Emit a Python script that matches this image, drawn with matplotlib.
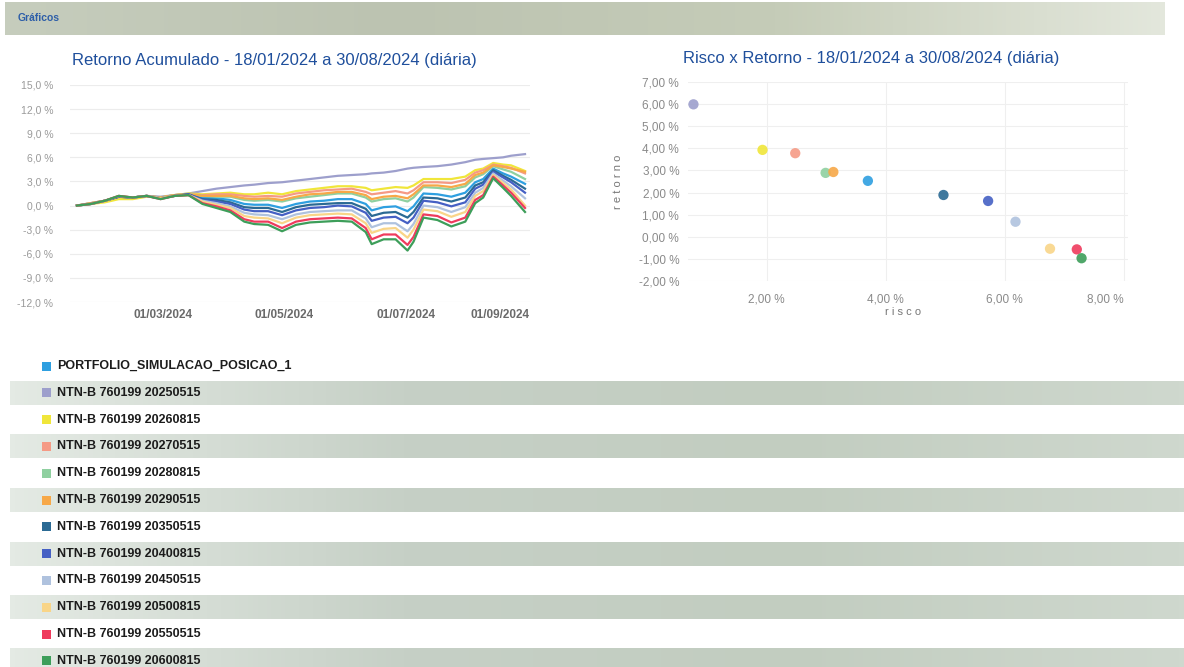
import matplotlib.pyplot as plt
import numpy as np
from datetime import datetime
from matplotlib.patches import Rectangle
from matplotlib.colors import LinearSegmentedColormap

plt.rcParams['font.family'] = ['Liberation Sans', 'DejaVu Sans']

# datas (aprox. semanais)
datas = ['2024-01-18', '2024-01-25', '2024-02-01', '2024-02-08', '2024-02-15', '2024-02-22',
         '2024-02-29', '2024-03-07', '2024-03-14', '2024-03-21', '2024-03-28', '2024-04-04',
         '2024-04-11', '2024-04-16', '2024-04-23', '2024-04-30', '2024-05-07', '2024-05-14',
         '2024-05-21', '2024-05-28', '2024-06-04', '2024-06-11', '2024-06-14', '2024-06-20',
         '2024-06-26', '2024-07-02', '2024-07-05', '2024-07-10', '2024-07-17', '2024-07-24',
         '2024-07-31', '2024-08-05', '2024-08-09', '2024-08-14', '2024-08-19', '2024-08-23',
         '2024-08-30']

ret_portfolio = [0.0, 0.2, 0.6, 1.1, 1.0, 1.2, 0.9, 1.2, 1.4, 1.0, 0.9, 0.7, 0.2, 0.1, 0.1, -0.3, 0.2, 0.5, 0.6,
                 0.8, 0.8, 0.2, -0.6, -0.2, -0.1, -0.7, -0.1, 1.5, 1.4, 1.1, 1.6, 2.9, 3.3, 4.6, 4.0, 3.6, 2.7]
ret_20250515 = [0.0, 0.3, 0.6, 1.0, 1.0, 1.2, 1.1, 1.3, 1.5, 1.8, 2.1, 2.3, 2.5, 2.6, 2.8, 2.9, 3.1, 3.3, 3.5,
                3.7, 3.8, 3.9, 4.0, 4.1, 4.3, 4.6, 4.7, 4.8, 4.9, 5.1, 5.4, 5.7, 5.8, 5.9, 6.0, 6.2, 6.4]
ret_20260815 = [0.0, 0.2, 0.4, 0.8, 0.8, 1.1, 1.0, 1.3, 1.5, 1.4, 1.5, 1.6, 1.4, 1.4, 1.6, 1.4, 1.8, 2.0, 2.2,
                2.4, 2.4, 2.2, 1.9, 2.1, 2.3, 2.2, 2.5, 3.3, 3.3, 3.3, 3.6, 4.4, 4.6, 5.3, 5.1, 5.0, 4.3]
ret_20270515 = [0.0, 0.3, 0.6, 1.1, 1.0, 1.2, 1.0, 1.3, 1.4, 1.3, 1.4, 1.4, 1.2, 1.1, 1.2, 1.1, 1.5, 1.7, 1.9,
                2.0, 2.1, 1.7, 1.4, 1.6, 1.8, 1.5, 1.9, 2.9, 2.9, 2.8, 3.2, 4.1, 4.4, 5.1, 4.9, 4.7, 4.0]
ret_20280815 = [0.0, 0.3, 0.6, 1.1, 1.0, 1.2, 1.0, 1.3, 1.4, 1.2, 1.1, 1.1, 0.7, 0.6, 0.7, 0.5, 0.9, 1.1, 1.3,
                1.5, 1.5, 1.0, 0.5, 0.8, 0.9, 0.5, 1.0, 2.3, 2.2, 2.0, 2.4, 3.5, 3.9, 4.9, 4.5, 4.2, 3.3]
ret_20290515 = [0.0, 0.3, 0.6, 1.1, 1.0, 1.2, 1.0, 1.3, 1.4, 1.2, 1.2, 1.2, 0.9, 0.8, 0.9, 0.7, 1.1, 1.4, 1.5,
                1.7, 1.7, 1.3, 0.8, 1.1, 1.2, 0.9, 1.4, 2.5, 2.5, 2.3, 2.7, 3.8, 4.1, 5.0, 4.8, 4.6, 4.2]
ret_20350515 = [0.0, 0.2, 0.6, 1.1, 1.0, 1.2, 0.9, 1.2, 1.4, 0.8, 0.7, 0.4, -0.2, -0.3, -0.3, -0.8, -0.2, 0.1, 0.2,
                0.3, 0.3, -0.4, -1.3, -0.9, -0.8, -1.5, -0.8, 1.0, 0.9, 0.5, 1.0, 2.5, 2.9, 4.4, 3.7, 3.2, 2.1]
ret_20400815 = [0.0, 0.2, 0.6, 1.1, 1.0, 1.2, 0.9, 1.2, 1.4, 0.7, 0.5, 0.2, -0.5, -0.7, -0.7, -1.2, -0.6, -0.3, -0.2,
                0.0, -0.1, -0.9, -1.9, -1.5, -1.4, -2.2, -1.5, 0.6, 0.4, -0.1, 0.4, 2.1, 2.6, 4.2, 3.5, 2.9, 1.6]
ret_20450515 = [0.0, 0.2, 0.6, 1.2, 1.0, 1.2, 0.9, 1.2, 1.3, 0.6, 0.3, -0.1, -0.9, -1.1, -1.2, -1.7, -1.1, -0.8, -0.7,
                -0.6, -0.6, -1.6, -2.7, -2.2, -2.2, -3.2, -2.3, 0.0, -0.2, -0.8, -0.2, 1.6, 2.2, 4.0, 3.1, 2.4, 0.9]
ret_20500815 = [0.0, 0.2, 0.6, 1.2, 1.0, 1.2, 0.9, 1.2, 1.3, 0.5, 0.1, -0.3, -1.3, -1.5, -1.6, -2.2, -1.5, -1.2, -1.1,
                -1.0, -1.1, -2.2, -3.4, -2.9, -2.8, -4.0, -3.0, -0.5, -0.7, -1.4, -0.8, 1.2, 1.8, 3.8, 2.8, 2.0, 0.0]
ret_20550515 = [0.0, 0.2, 0.6, 1.2, 1.0, 1.2, 0.8, 1.2, 1.3, 0.3, -0.1, -0.6, -1.7, -2.0, -2.0, -2.8, -2.0, -1.7, -1.6,
                -1.5, -1.6, -2.8, -4.2, -3.6, -3.6, -4.9, -3.9, -1.1, -1.3, -2.1, -1.5, 0.7, 1.3, 3.6, 2.5, 1.6, -0.3]
ret_20600815 = [0.0, 0.2, 0.6, 1.2, 1.0, 1.2, 0.8, 1.2, 1.3, 0.2, -0.3, -0.8, -2.0, -2.3, -2.4, -3.2, -2.4, -2.1, -2.0,
                -1.9, -2.0, -3.3, -4.8, -4.2, -4.2, -5.6, -4.5, -1.5, -1.8, -2.6, -2.0, 0.3, 1.0, 3.4, 2.2, 1.2, -0.8]

nomes = ['PORTFOLIO_SIMULACAO_POSICAO_1', 'NTN-B 760199 20250515', 'NTN-B 760199 20260815',
         'NTN-B 760199 20270515', 'NTN-B 760199 20280815', 'NTN-B 760199 20290515',
         'NTN-B 760199 20350515', 'NTN-B 760199 20400815', 'NTN-B 760199 20450515',
         'NTN-B 760199 20500815', 'NTN-B 760199 20550515', 'NTN-B 760199 20600815']
cores = ['#2e9fe0', '#9d9fcc', '#f0e63a', '#f59a85', '#8fd0a0', '#f7a848',
         '#2b6a94', '#4560c4', '#afc2de', '#f9d588', '#ef3b5d', '#3d9e5a']

# risco x retorno (%)
risco = [3.70, 0.77, 1.93, 2.48, 2.99, 3.12, 4.97, 5.72, 6.18, 6.76, 7.21, 7.29]
retorno = [2.53, 5.99, 3.93, 3.78, 2.89, 2.93, 1.89, 1.62, 0.68, -0.54, -0.57, -0.97]

series = [ret_portfolio, ret_20250515, ret_20260815, ret_20270515, ret_20280815, ret_20290515,
          ret_20350515, ret_20400815, ret_20450515, ret_20500815, ret_20550515, ret_20600815]

W, H = 1184, 667
fig = plt.figure(figsize=(W / 100, H / 100), dpi=100)
fig.patch.set_facecolor('white')

# fundo: barra do cabecalho e faixas da legenda
bg = fig.add_axes([0, 0, 1, 1], zorder=-5)
bg.axis('off')
grad = np.linspace(0, 1, 256).reshape(1, -1)
cmap_head = LinearSegmentedColormap.from_list('head', ['#c6cdbd', '#bcc3b1', '#c5ccb8', '#e3e7dc'])
bg.imshow(grad, extent=(5, 1165, 35, 2), aspect='auto', cmap=cmap_head)
bg.text(18, 18, 'Gráficos', color='#2d5ea8', fontsize=7.5, fontweight='bold', va='center')

cmap_row = LinearSegmentedColormap.from_list('row', ['#e4eae4', '#c6d0c6', '#c2cdc0', '#cfd8ce'])
y0, dy = 366, 26.8
for i, (nome, cor) in enumerate(zip(nomes, cores)):
    yc = y0 + i * dy
    if i % 2 == 1:
        bg.imshow(grad, extent=(10, 1184, yc + 12, yc - 12), aspect='auto', cmap=cmap_row)
    bg.add_patch(Rectangle((42, yc - 4.5), 9, 9, color=cor, lw=0))
    bg.text(57, yc, nome, fontsize=9, fontweight='bold', color='#1c1c1c', va='center')
bg.set_xlim(0, W)
bg.set_ylim(H, 0)

# ---- Retorno acumulado ----
dts = [datetime.strptime(d, '%Y-%m-%d') for d in datas]
ax1 = fig.add_axes([70 / W, 1 - 302 / H, 460 / W, 217 / H])
for vals, cor in zip(series, cores):
    ax1.plot(dts, vals, color=cor, lw=1.6, solid_joinstyle='round')

ax1.set_xlim(datetime(2024, 1, 14, 12), datetime(2024, 9, 1, 12))
ax1.set_ylim(-12, 15)
yt = np.arange(-12, 16, 3)
ax1.set_yticks(yt)
ax1.set_yticklabels([('%.1f %%' % v).replace('.', ',') for v in yt])
xt = [datetime(2024, 3, 1), datetime(2024, 5, 1), datetime(2024, 7, 1), datetime(2024, 9, 1)]
ax1.set_xticks(xt)
ax1.set_xticklabels([d.strftime('%d/%m/%Y') for d in xt])
ax1.get_xticklabels()[-1].set_ha('right')
for s in ax1.spines.values():
    s.set_visible(False)
ax1.grid(axis='y', color='#ececec', lw=0.8)
ax1.set_axisbelow(True)
ax1.tick_params(axis='y', length=0, labelsize=7.5, labelcolor='#9a9a9a', pad=12)
ax1.tick_params(axis='x', length=0, labelsize=8.5, labelcolor='#6a6a6a', pad=5)
for t in ax1.get_xticklabels():
    t.set_fontweight('bold')
fig.text(274 / W, 1 - 60 / H, 'Retorno Acumulado - 18/01/2024 a 30/08/2024 (diária)',
         ha='center', va='center', color='#1f4f9c', fontsize=12)

# ---- Risco x Retorno ----
ax2 = fig.add_axes([687.5 / W, 1 - 281 / H, 440.5 / W, 199 / H])
ax2.scatter(risco, retorno, c=cores, s=55, alpha=0.9, edgecolors='none', zorder=3)
ax2.set_xlim(0.67, 8.07)
ax2.set_ylim(-2, 7)
yt2 = np.arange(-2, 8, 1)
ax2.set_yticks(yt2)
ax2.set_yticklabels([('%.2f %%' % v).replace('.', ',') for v in yt2])
xt2 = [2, 4, 6, 8]
ax2.set_xticks(xt2)
ax2.set_xticklabels([('%.2f %%' % v).replace('.', ',') for v in xt2])
ax2.get_xticklabels()[-1].set_ha('right')
for s in ax2.spines.values():
    s.set_visible(False)
ax2.grid(color='#efefef', lw=0.8)
ax2.set_axisbelow(True)
ax2.tick_params(length=0, labelsize=8.5, labelcolor='#8a8a8a')
ax2.tick_params(axis='y', pad=6)
ax2.tick_params(axis='x', pad=9)
ax2.set_ylabel('r e t o r n o', fontsize=8, color='#777777')
ax2.yaxis.set_label_coords(-0.147, 0.5)
ax2.set_xlabel('r i s c o', fontsize=8, color='#777777')
ax2.xaxis.set_label_coords(0.49, -0.13)
fig.text(871 / W, 1 - 59 / H, 'Risco x Retorno - 18/01/2024 a 30/08/2024 (diária)',
         ha='center', va='center', color='#1f4f9c', fontsize=12)

fig.savefig('out.png', dpi=100)
